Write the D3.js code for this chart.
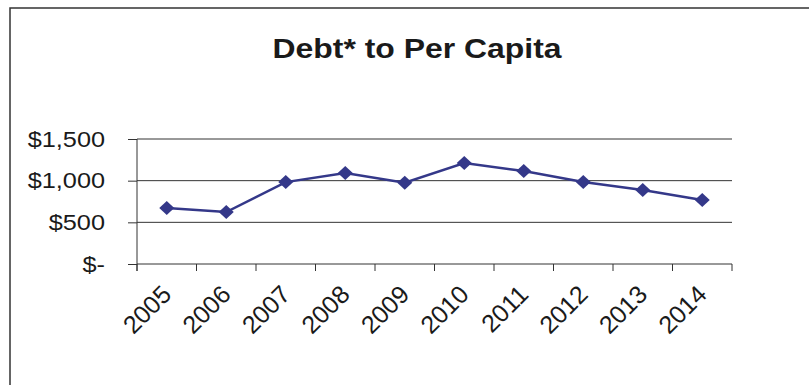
<!DOCTYPE html>
<html>
<head>
<meta charset="utf-8">
<script src="https://cdn.jsdelivr.net/npm/d3@7"></script>
<style>
  html, body { margin: 0; padding: 0; background: #fff; }
  text { font-family: "Liberation Sans", Arial, sans-serif; fill: #1a1a1a; }
</style>
</head>
<body>
<div id="chart"></div>
<script>
  // chart values
  var years = ["2005", "2006", "2007", "2008", "2009", "2010", "2011", "2012", "2013", "2014"];
  var debtPerCapita = [672, 624, 983, 1091, 975, 1211, 1115, 983, 887, 767];
  var yTicks = [0, 500, 1000, 1500];
  var title = "Debt* to Per Capita";

  var W = 809, H = 385;
  var plot = { left: 137, right: 732, top: 139, bottom: 264 };
  var navy = "#343889";

  var svg = d3.select("#chart").append("svg")
    .attr("width", W)
    .attr("height", H);

  // outer frame (only left + top survive in the scan)
  svg.append("path")
    .attr("d", "M10," + H + "V8H" + W)
    .attr("fill", "none")
    .attr("stroke", "#333")
    .attr("stroke-width", 1.5);

  // title, a bit wide like the scan
  svg.append("text")
    .attr("transform", "translate(417,58) scale(1.14,1)")
    .attr("text-anchor", "middle")
    .style("font-size", "28px")
    .style("font-weight", "bold")
    .text(title);

  var x = d3.scaleBand().domain(years).range([plot.left, plot.right]).padding(0);
  var y = d3.scaleLinear().domain([0, 1500]).range([plot.bottom, plot.top]);

  // gridlines
  svg.append("g")
    .selectAll("line")
    .data(yTicks.filter(function (d) { return d > 0; }))
    .join("line")
    .attr("x1", plot.left)
    .attr("x2", plot.right)
    .attr("y1", function (d) { return y(d); })
    .attr("y2", function (d) { return y(d); })
    .attr("stroke", "#333")
    .attr("stroke-width", 1);

  // y axis
  var yAxis = svg.append("g")
    .attr("transform", "translate(" + plot.left + ",0)")
    .call(d3.axisLeft(y).tickValues(yTicks).tickSize(9).tickPadding(0)
      .tickFormat(function (d) { return d === 0 ? "$-" : "$" + d3.format(",")(d); }));
  yAxis.select(".domain").remove();
  yAxis.selectAll(".tick line").attr("stroke", "#333");
  yAxis.selectAll(".tick text")
    .attr("x", null)
    .attr("dy", null)
    .attr("transform", "translate(-32,7) scale(1.15,1)")
    .style("font-size", "22px")
    .attr("fill", "#1a1a1a");
  yAxis.append("line")
    .attr("y1", plot.top).attr("y2", plot.bottom + 7)
    .attr("stroke", "#333");

  // x axis, ticks on category boundaries
  var bounds = years.map(function (d) { return x(d); }).concat([plot.right]);
  var xAxis = svg.append("g");
  xAxis.append("line")
    .attr("x1", plot.left).attr("x2", plot.right)
    .attr("y1", plot.bottom).attr("y2", plot.bottom)
    .attr("stroke", "#333");
  xAxis.selectAll(".tk")
    .data(bounds)
    .join("line")
    .attr("class", "tk")
    .attr("x1", function (d) { return d; })
    .attr("x2", function (d) { return d; })
    .attr("y1", plot.bottom)
    .attr("y2", plot.bottom + 7)
    .attr("stroke", "#333");
  xAxis.selectAll("text")
    .data(years)
    .join("text")
    .attr("transform", function (d) {
      return "translate(" + (x(d) + x.bandwidth() / 2 + 6) + "," + (plot.bottom + 32) + ") rotate(-45)";
    })
    .attr("text-anchor", "end")
    .style("font-size", "25px")
    .text(function (d) { return d; });

  // series
  var pts = years.map(function (d, i) { return [x(d) + x.bandwidth() / 2, y(debtPerCapita[i])]; });

  svg.append("path")
    .datum(pts)
    .attr("d", d3.line())
    .attr("fill", "none")
    .attr("stroke", navy)
    .attr("stroke-width", 2.5);

  svg.append("g")
    .selectAll("path")
    .data(pts)
    .join("path")
    .attr("transform", function (d) { return "translate(" + d[0] + "," + d[1] + ")"; })
    .attr("d", "M0,-7L7.5,0L0,7L-7.5,0Z")
    .attr("fill", navy);
</script>
</body>
</html>
